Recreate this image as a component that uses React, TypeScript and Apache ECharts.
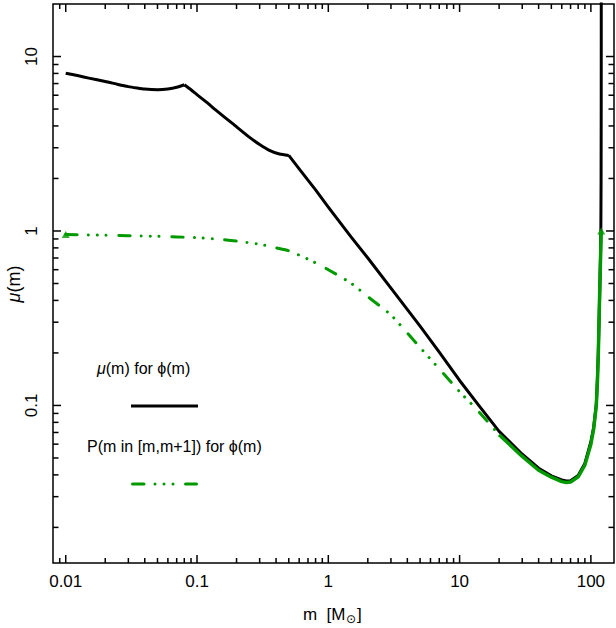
import React, { useEffect, useRef } from "react";
import * as echarts from "echarts";

// mu(m) for phi(m), in three pieces split at the kinks (0.08 and 0.5)
const blackM1 = [0.01, 0.0125, 0.015, 0.02, 0.025, 0.03, 0.035, 0.04, 0.045, 0.05, 0.06, 0.07, 0.08];
const blackMu1 = [8.02, 7.75, 7.52, 7.2, 6.92, 6.72, 6.6, 6.51, 6.47, 6.46, 6.52, 6.66, 6.89];
const blackM2 = [0.08, 0.09, 0.1, 0.12, 0.14, 0.187, 0.25, 0.3, 0.356, 0.425, 0.5];
const blackMu2 = [6.89, 6.45, 6.05, 5.42, 4.91, 4.12, 3.45, 3.13, 2.9, 2.76, 2.71];
const blackM3 = [0.5, 0.6, 0.8, 1, 1.5, 2, 3, 5, 7, 10, 14, 20, 30, 40, 50, 60, 65, 70, 80, 90, 100, 105, 110, 112, 114, 116, 117.5, 118.5, 119.2, 119.6, 119.85, 119.95, 120];
const blackMu3 = [2.71, 2.27, 1.72, 1.37, 0.92, 0.7, 0.47, 0.285, 0.202, 0.139, 0.1, 0.071, 0.0525, 0.0437, 0.0395, 0.0374, 0.0369, 0.037, 0.0397, 0.0465, 0.062, 0.075, 0.102, 0.14, 0.205, 0.36, 0.55, 0.75, 1.1, 2, 5, 12, 30];

// P(m in [m,m+1]) for phi(m) — dash-dot part
const greenDashM = [0.01, 0.02, 0.03, 0.05, 0.07, 0.1, 0.15, 0.2, 0.3, 0.4, 0.5, 0.7, 1, 1.5, 2, 3, 4, 5, 7, 10, 13.5, 20];
const greenDashP = [0.955, 0.945, 0.94, 0.932, 0.925, 0.915, 0.895, 0.875, 0.84, 0.8, 0.77, 0.69, 0.6, 0.5, 0.42, 0.33, 0.26, 0.215, 0.162, 0.12, 0.095, 0.068];
// P(m in [m,m+1]) — dense (solid-looking) part
const greenSolidM = [20, 30, 40, 50, 60, 65, 70, 80, 90, 100, 105, 110, 112.3, 114, 115.7, 117, 118.5, 119.5, 120];
const greenSolidP = [0.068, 0.051, 0.0425, 0.0388, 0.0366, 0.0362, 0.0364, 0.039, 0.0455, 0.06, 0.073, 0.1, 0.14, 0.2, 0.337, 0.48, 0.7, 0.88, 1.0];

const markerM = [0.01, 120];
const markerP = [0.955, 1.0];

const xMajorTicks = [0.01, 0.1, 1, 10, 100];
const xMinorTicks = [0.009, 0.02, 0.03, 0.04, 0.05, 0.06, 0.07, 0.08, 0.09, 0.2, 0.3, 0.4, 0.5, 0.6, 0.7, 0.8, 0.9, 2, 3, 4, 5, 6, 7, 8, 9, 20, 30, 40, 50, 60, 70, 80, 90];
const yMajorTicks = [0.1, 1, 10];
const yMinorTicks = [0.02, 0.03, 0.04, 0.05, 0.06, 0.07, 0.08, 0.09, 0.2, 0.3, 0.4, 0.5, 0.6, 0.7, 0.8, 0.9, 2, 3, 4, 5, 6, 7, 8, 9];

const X_MIN = 0.008;
const X_MAX = 150;
const Y_MIN = 0.0125;
const Y_MAX = 20;

const GREEN = "#009a00";
const DASH = [11.5, 11, 0.01, 9, 0.01, 9, 0.01, 12.5];
const FONT = "Liberation Sans, Arial, sans-serif";

const zip = (a: number[], b: number[]) => a.map((v, i) => [v, b[i]]);

export default function App() {
  const ref = useRef<HTMLDivElement>(null);
  useEffect(() => {
    if (!ref.current) return;
    const chart = echarts.init(ref.current, undefined, { renderer: "svg" });
    const fmt = (v: number) => String(+Number(v).toPrecision(6));
    const xTickData = [
      ...xMajorTicks.map((v) => [v, 1, 1]),
      ...xMinorTicks.map((v) => [v, 1, 0]),
    ];
    const yTickData = [
      ...yMajorTicks.map((v) => [1, v, 1]),
      ...yMinorTicks.map((v) => [1, v, 0]),
    ];
    const tickStyle = { stroke: "#000", lineWidth: 1.5 };
    const blackSeries = (m: number[], mu: number[], smooth: number) => ({
      type: "line",
      data: zip(m, mu),
      showSymbol: false,
      symbol: "none",
      smooth,
      lineStyle: { color: "#000", width: 3, join: "round" },
      z: 2,
    });
    chart.setOption({
      animation: false,
      backgroundColor: "#fff",
      grid: {
        left: 53,
        right: 2,
        top: 4,
        bottom: 65,
        show: true,
        borderColor: "#000",
        borderWidth: 1.5,
        backgroundColor: "transparent",
      },
      xAxis: {
        type: "log",
        logBase: 10,
        min: X_MIN,
        max: X_MAX,
        axisLine: { show: false },
        axisTick: { show: false },
        splitLine: { show: false },
        axisLabel: {
          showMinLabel: false,
          showMaxLabel: false,
          formatter: fmt,
          color: "#000",
          fontFamily: FONT,
          fontSize: 17,
          margin: 10,
        },
      },
      yAxis: {
        type: "log",
        logBase: 10,
        min: Y_MIN,
        max: Y_MAX,
        axisLine: { show: false },
        axisTick: { show: false },
        splitLine: { show: false },
        axisLabel: {
          showMinLabel: false,
          showMaxLabel: false,
          formatter: fmt,
          rotate: 90,
          color: "#000",
          fontFamily: FONT,
          fontSize: 17,
          margin: 13,
        },
      },
      series: [
        blackSeries(blackM1, blackMu1, 0.2),
        blackSeries(blackM2, blackMu2, 0.2),
        blackSeries(blackM3, blackMu3, 0),
        {
          type: "line",
          data: zip(greenDashM, greenDashP),
          showSymbol: false,
          symbol: "none",
          smooth: 0.2,
          lineStyle: { color: GREEN, width: 3, type: DASH, cap: "round" },
          z: 3,
        },
        {
          type: "line",
          data: zip(greenSolidM, greenSolidP),
          showSymbol: false,
          symbol: "none",
          lineStyle: { color: GREEN, width: 3.5, join: "round" },
          z: 3,
        },
        {
          type: "scatter",
          data: zip(markerM, markerP),
          symbol: "triangle",
          symbolSize: [8, 7],
          itemStyle: { color: GREEN },
          z: 4,
        },
        {
          type: "custom",
          silent: true,
          data: xTickData,
          encode: { x: 0, y: 1 },
          z: 5,
          renderItem: (params: any, api: any) => {
            const cs = params.coordSys;
            const p = api.coord([api.value(0), 1]);
            const len = api.value(2) === 1 ? 8 : 5;
            const bottom = cs.y + cs.height;
            return {
              type: "group",
              children: [
                { type: "line", shape: { x1: p[0], y1: bottom, x2: p[0], y2: bottom - len }, style: tickStyle },
                { type: "line", shape: { x1: p[0], y1: cs.y, x2: p[0], y2: cs.y + len }, style: tickStyle },
              ],
            };
          },
        },
        {
          type: "custom",
          silent: true,
          data: yTickData,
          encode: { x: 0, y: 1 },
          z: 5,
          renderItem: (params: any, api: any) => {
            const cs = params.coordSys;
            const p = api.coord([1, api.value(1)]);
            const len = api.value(2) === 1 ? 8 : 5.5;
            const right = cs.x + cs.width;
            return {
              type: "group",
              children: [
                { type: "line", shape: { x1: cs.x, y1: p[1], x2: cs.x + len, y2: p[1] }, style: tickStyle },
                { type: "line", shape: { x1: right, y1: p[1], x2: right - len, y2: p[1] }, style: tickStyle },
              ],
            };
          },
        },
      ],
      graphic: [
        // axis titles
        {
          type: "text",
          x: 303,
          y: 614,
          style: { text: "m  [M", fill: "#000", font: `17px ${FONT}`, verticalAlign: "middle", align: "left" },
        },
        {
          type: "text",
          x: 346,
          y: 619,
          style: { text: "⊙", fill: "#000", font: `12px DejaVu Sans`, verticalAlign: "middle", align: "left" },
        },
        {
          type: "text",
          x: 357,
          y: 614,
          style: { text: "]", fill: "#000", font: `17px ${FONT}`, verticalAlign: "middle", align: "left" },
        },
        {
          type: "text",
          x: 14,
          y: 284,
          rotation: Math.PI / 2,
          style: {
            text: "{i|μ}(m)",
            fill: "#000",
            font: `18px ${FONT}`,
            verticalAlign: "middle",
            align: "center",
            rich: { i: { fontStyle: "italic", fontSize: 18, fontFamily: FONT } },
          },
        },
        // legend
        {
          type: "text",
          x: 97,
          y: 368,
          style: {
            text: "{i|μ}(m) for ϕ(m)",
            fill: "#000",
            font: `16px ${FONT}`,
            verticalAlign: "middle",
            align: "left",
            rich: { i: { fontStyle: "italic", fontSize: 16, fontFamily: FONT } },
          },
        },
        {
          type: "line",
          shape: { x1: 131, y1: 406, x2: 198, y2: 406 },
          style: { stroke: "#000", lineWidth: 3 },
        },
        {
          type: "text",
          x: 87,
          y: 446,
          style: { text: "P(m in [m,m+1]) for ϕ(m)", fill: "#000", font: `16px ${FONT}`, verticalAlign: "middle", align: "left" },
        },
        {
          type: "line",
          shape: { x1: 132.5, y1: 484, x2: 196.5, y2: 484 },
          style: { stroke: GREEN, lineWidth: 3, lineDash: DASH, lineCap: "round" },
        },
      ],
    });
    return () => chart.dispose();
  }, []);
  return (
    <div
      ref={ref}
      style={{ position: "absolute", left: 0, top: 0, width: 616, height: 628 }}
    />
  );
}
